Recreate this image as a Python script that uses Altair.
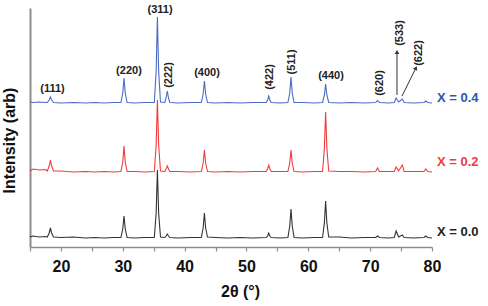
import altair as alt
import pandas as pd

# ---- data ----
two_theta = [15.0, 15.5, 16.5, 17.5, 17.8, 18.1, 18.3, 18.5, 18.8, 20.0,
             22.0, 24.0, 25.5, 27.0, 28.5, 29.7, 30.0, 30.2, 30.4, 30.7,
             32.0, 33.5, 35.1, 35.4, 35.6, 35.8, 36.1, 36.8, 37.0, 37.2,
             37.4, 37.6, 39.0, 41.0, 42.7, 43.0, 43.2, 43.4, 43.7, 45.0,
             47.0, 49.0, 51.0, 53.2, 53.42, 53.6, 53.78, 54.0, 55.5, 56.7,
             57.0, 57.2, 57.4, 57.7, 59.0, 61.0, 62.3, 62.6, 62.8, 63.0,
             63.3, 65.0, 67.0, 69.0, 70.9, 71.2, 71.5, 73.0, 73.9, 74.2,
             74.6, 75.2, 75.5, 77.0, 78.7, 79.0, 79.3, 80.0]

int_x00 = [1, 2, 1, 1.5, 1, 5, 10, 5, 1, 0.5,
           1, 0, 0.5, 0, 0.5, 0.5, 9, 22, 9, 0.5,
           0, 0.5, 0.5, 25, 68, 25, 1, 0.5, 2, 4,
           2, 0.5, 0, 0.5, 0.5, 10, 25, 10, 1, 0.5,
           0, 0.5, 0, 0.5, 2, 5, 2, 0.5, 0, 0.5,
           12, 29, 12, 0.5, 0, 0.5, 0.5, 15, 37, 15,
           1, 1, 0, 0.5, 0.5, 2, 0.5, 0, 0.5, 7,
           1, 3, 0.5, 0, 0.5, 2, 0.5, 0]

int_x02 = [1, 3, 2, 2.5, 1, 6, 12, 6, 1, 1,
           0, 0.5, 0, 0.5, 0, 0.5, 10, 26, 10, 0.5,
           0.5, 0, 0.5, 27, 72, 27, 1, 0.5, 3, 6,
           3, 0.5, 0.5, 0, 0.5, 9, 22, 9, 0.5, 0,
           0.5, 0, 0.5, 0.5, 3, 7, 3, 0.5, 0.5, 0.5,
           9, 22, 9, 0.5, 0, 0.5, 0.5, 24, 60, 24,
           1, 0.5, 0.5, 0, 0.5, 4, 0.5, 0.5, 0.5, 5,
           1, 7, 0.5, 0.5, 0.5, 3, 0.5, 0]

int_x04 = [1, 0.5, 1, 0.5, 0.5, 3, 6, 3, 0.5, 0,
           0.5, 0, 0.5, 0, 0.5, 0.5, 10, 25, 10, 0.5,
           0, 0.5, 0.5, 32, 86, 32, 1, 0.5, 5, 12,
           5, 0.5, 0, 0.5, 0.5, 9, 22, 9, 0.5, 0,
           0.5, 0, 0.5, 0.5, 3, 7, 3, 0.5, 0, 0.5,
           10, 26, 10, 0.5, 0.5, 0, 0.5, 8, 19, 8,
           0.5, 0, 0.5, 0, 0.5, 2.5, 0.5, 0, 0.5, 5,
           1, 4, 0.5, 0, 0.5, 2, 0.5, 0]

series_names = ["X = 0.0", "X = 0.2", "X = 0.4"]
series_offsets = [9, 75, 144]
series_colors = ["#333333", "#f03c3c", "#4a6cc4"]
label_colors = ["#222222", "#f23a3a", "#2f55a8"]
series_label_y = [15, 85, 149.5]
series_label_x = [80.8, 80.8, 80.8]

peak_labels = ["(111)", "(220)", "(311)", "(222)", "(400)", "(422)",
               "(511)", "(440)", "(620)", "(533)", "(622)"]
peak_label_x = [18.64, 31.0, 36.02, 37.47, 43.62, 53.8, 57.36, 63.67, 71.59, 74.82, 77.89]
peak_label_y = [158, 176, 237, 172, 174, 170, 185, 171, 164, 214, 194]
peak_label_angle = [0, 0, 0, 270, 0, 270, 270, 0, 270, 270, 270]

arrow_x = [74.34, 75.15]
arrow_y = [152, 151]
arrow_x2 = [74.34, 77.4]
arrow_y2 = [195, 179]
arrow_head_angle = [0, 27]

x_ticks = [15, 20, 25, 30, 35, 40, 45, 50, 55, 60, 65, 70, 75, 80]

# ---- tables ----
rows = []
for name, off, vals in zip(series_names, series_offsets, [int_x00, int_x02, int_x04]):
    for t, v in zip(two_theta, vals):
        rows.append({"theta": t, "intensity": v + off, "series": name})
lines_df = pd.DataFrame(rows)

slabels_df = pd.DataFrame({"series": series_names, "x": series_label_x, "y": series_label_y})
plabels_df = pd.DataFrame({"label": peak_labels, "x": peak_label_x, "y": peak_label_y,
                           "angle": peak_label_angle})
arrows_df = pd.DataFrame({"x": arrow_x, "y": arrow_y, "x2": arrow_x2, "y2": arrow_y2,
                          "angle": arrow_head_angle})

FONT = "Liberation Sans"
xscale = alt.Scale(domain=[15, 80], nice=False, zero=False)
yscale = alt.Scale(domain=[0, 239], nice=False, zero=False)
color_scale = alt.Scale(domain=series_names, range=series_colors)
label_scale = alt.Scale(domain=series_names, range=label_colors)

x_axis = alt.Axis(title="2θ (°)", values=x_ticks,
                  labelExpr="datum.value % 10 == 0 ? datum.label : ''",
                  labelOverlap=False, labelFlush=False,
                  grid=False, tickSize=4, labelPadding=7,
                  labelFont=FONT, labelFontSize=16, labelFontWeight="bold",
                  labelColor="#111111",
                  titleFont=FONT, titleFontSize=16, titleFontWeight="bold",
                  titleColor="#111111", titlePadding=9, titleX=210,
                  domainColor="#8c8c8c", domainWidth=1.5, tickColor="#8c8c8c",
                  tickWidth=1.2)
y_axis = alt.Axis(title="Intensity (arb)", labels=False, ticks=False, grid=False,
                  titleFont=FONT, titleFontSize=16, titleFontWeight="bold",
                  titleColor="#111111", titlePadding=13, titleY=132,
                  domainColor="#8c8c8c", domainWidth=2)

lines = alt.Chart(lines_df).mark_line(strokeWidth=1.1, clip=False).encode(
    x=alt.X("theta:Q", scale=xscale, axis=x_axis),
    y=alt.Y("intensity:Q", scale=yscale, axis=y_axis),
    color=alt.Color("series:N", scale=color_scale, legend=None),
    detail="series:N",
)

slabels = alt.Chart(slabels_df).mark_text(
    align="left", baseline="middle", font=FONT, fontSize=13, fontWeight="bold"
).encode(
    x=alt.X("x:Q", scale=xscale, axis=x_axis), y=alt.Y("y:Q", scale=yscale, axis=y_axis),
    text="series:N",
    color=alt.Color("series:N", scale=label_scale, legend=None),
)

plabels = alt.Chart(plabels_df).mark_text(
    align="center", baseline="middle", font=FONT, fontSize=11, fontWeight="bold",
    color="#222222"
).encode(
    x=alt.X("x:Q", scale=xscale, axis=x_axis), y=alt.Y("y:Q", scale=yscale, axis=y_axis),
    text="label:N",
    angle=alt.Angle("angle:Q", scale=None),
)

arrow_lines = alt.Chart(arrows_df).mark_rule(color="#333333", strokeWidth=1).encode(
    x=alt.X("x:Q", scale=xscale, axis=x_axis), y=alt.Y("y:Q", scale=yscale, axis=y_axis),
    x2="x2:Q", y2="y2:Q",
)
arrow_heads = alt.Chart(arrows_df).mark_point(
    shape="triangle-up", filled=True, color="#333333", size=22, opacity=1
).encode(
    x=alt.X("x2:Q", scale=xscale, axis=x_axis), y=alt.Y("y2:Q", scale=yscale, axis=y_axis),
    angle=alt.Angle("angle:Q", scale=None),
)

chart = alt.layer(lines, slabels, plabels, arrow_lines, arrow_heads).resolve_scale(
    color="independent"
).properties(
    width=402, height=239,
    autosize=alt.AutoSizeParams(type="none"),
    padding={"left": 30, "top": 8, "right": 56, "bottom": 59},
    background="white",
).configure_view(stroke=None).configure_axis(labelOverlap=False)

chart.save("out.html", embed_options={"renderer": "svg", "actions": False})
